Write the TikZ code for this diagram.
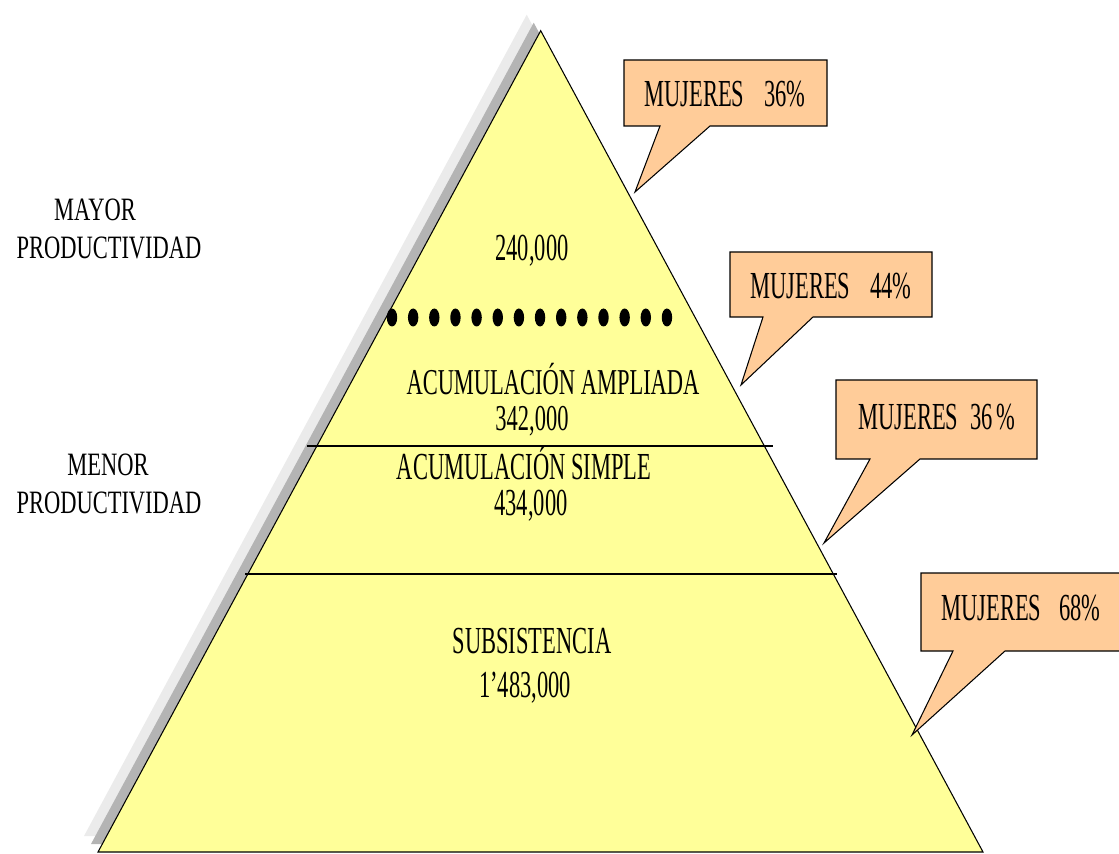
\documentclass[tikz,border=0pt]{standalone}
\usepackage{fontspec}
\setmainfont{Liberation Serif}
\usepackage{graphicx}
\definecolor{pyrfill}{HTML}{FFFF99}
\definecolor{calloutfill}{HTML}{FFCC99}
\definecolor{shadowdark}{HTML}{B4B4B4}
\definecolor{shadowlight}{HTML}{EBEBEB}
\newcommand{\tallt}[2][1.7]{\scalebox{1}[#1]{#2}}
\usetikzlibrary{calc}

\begin{document}
\begin{tikzpicture}[
    x=0.02cm, y=-0.02cm,
    lbl/.style={font=\fontsize{12.8}{15}\selectfont, inner sep=0pt},
    callout/.style={draw=black, line width=0.6pt, fill=calloutfill, line join=miter},
    divider/.style={draw=black, line width=1pt}
]
\useasboundingbox (0,0) rectangle (1119,854);
\clip (0,0) rectangle (1119,854);

% ── Pyramid corners ──
\coordinate (apex) at (540.7,30.7);
\coordinate (bl) at (98,852);
\coordinate (br) at (983,852);

% ── Shadow ──
\fill[shadowlight] ($(apex)+(-14,-16)$) -- ($(br)+(-14,-16)$) -- ($(bl)+(-14,-16)$) -- cycle;
\fill[shadowdark] ($(apex)+(-7,-8)$) -- ($(br)+(-7,-8)$) -- ($(bl)+(-7,-8)$) -- cycle;

% ── Pyramid ──
\draw[fill=pyrfill, line width=0.6pt] (apex) -- (br) -- (bl) -- cycle;

% ── Dividers ──
\foreach \i in {0,...,13}
    \fill (392+21.15*\i,317.5) ellipse [x radius=5.2, y radius=9];
\draw[divider] (307,446) -- (773,446);
\draw[divider] (245,574) -- (837,574);

% ── Levels ──
\node[lbl] (top) at (532,251) {\tallt{240,000}};
\node[lbl] (ampl) at (553,379) {\tallt[1.62]{ACUMULACIÓN AMPLIADA}};
\node[lbl] (amplv) at (532,421) {\tallt[1.62]{342,000}};
\node[lbl] (simp) at (524,463) {\tallt{ACUMULACIÓN SIMPLE}};
\node[lbl] (simpv) at (531,506) {\tallt{434,000}};
\node[lbl] (subs) at (532,641) {\tallt{SUBSISTENCIA}};
\node[lbl] (subsv) at (525,688) {\tallt{1’483,000}};

% ── Productivity labels ──
\node[lbl] (mayor) at (95,210) {\tallt[1.45]{MAYOR}};
\node[lbl] (mayorp) at (109,248) {\tallt[1.45]{PRODUCTIVIDAD}};
\node[lbl] (menor) at (108,465) {\tallt[1.45]{MENOR}};
\node[lbl] (menorp) at (109,503) {\tallt[1.45]{PRODUCTIVIDAD}};

% ── Callouts ──
\draw[callout] (624,60) -- (827,60) -- (827,126) -- (710,126) -- (635,192) -- (660,126) -- (624,126) -- cycle;
\node[lbl] (m1) at (725,94) {\tallt{MUJERES\hspace{0.9em}36\%}};

\draw[callout] (730,252) -- (932,252) -- (932,317) -- (813,317) -- (741,385) -- (763,317) -- (730,317) -- cycle;
\node[lbl] (m2) at (831,286) {\tallt{MUJERES\hspace{0.9em}44\%}};

\draw[callout] (836,380) -- (1037,380) -- (1037,459) -- (920,459) -- (824,543) -- (870,459) -- (836,459) -- cycle;
\node[lbl] (m3) at (937,417) {\tallt{MUJERES\hspace{0.55em}36\,\%}};

\draw[callout] (921,573) -- (1130,573) -- (1130,651) -- (1005,651) -- (912,735) -- (953,651) -- (921,651) -- cycle;
\node[lbl] (m4) at (1021,608) {\tallt{MUJERES\hspace{0.8em}68\%}};
\end{tikzpicture}
\end{document}
